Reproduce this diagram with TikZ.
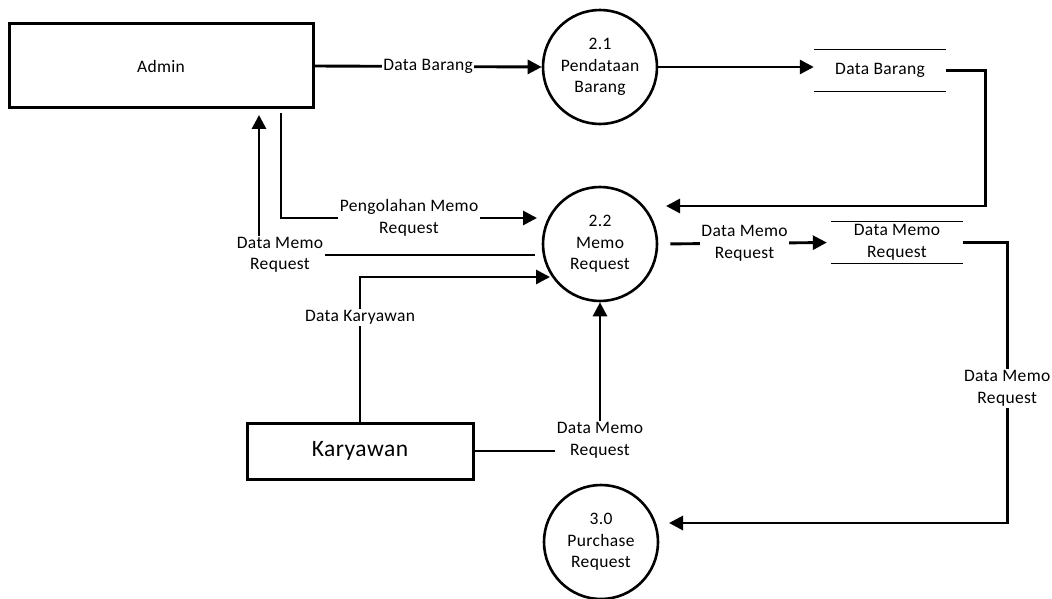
\documentclass[tikz,border=0pt]{standalone}
\usepackage{fontspec}
\setmainfont[LetterSpace=2]{Carlito}
\usetikzlibrary{arrows.meta}
\newcommand\lblfont{\fontsize{17.5}{21.5}\selectfont}
\tikzset{
 flow/.style={line width=2.9pt, -{Triangle[length=14pt,width=14pt]}},
 ext/.style={draw, line width=3pt, rectangle, inner sep=0pt},
 proc/.style={draw, circle, line width=2.6pt, minimum size=114pt, inner sep=0pt, align=center, font=\lblfont},
 lbl/.style={fill=white, inner sep=1.5pt, align=center, font=\lblfont},
 store/.style={inner sep=0pt, minimum width=132pt, minimum height=41pt, align=center, font=\lblfont},
 storeline/.style={line width=1.3pt},
}
\begin{document}
\begin{tikzpicture}[x=1pt,y=-1pt]
\useasboundingbox (0,0) rectangle (1052,599);
% nodes
\node[ext, minimum width=304pt, minimum height=84pt, font=\lblfont] (admin) at (161,66) {Admin};
\node[proc] (c21) at (600,67) {2.1\\Pendataan\\Barang};
\node[store] (s1) at (880,70.5) {Data Barang};
\draw[storeline] (s1.north west) -- (s1.north east) (s1.south west) -- (s1.south east);
\node[proc] (c22) at (600,244) {2.2\\Memo\\Request};
\node[store] (s2) at (897,242.5) {Data Memo\\Request};
\draw[storeline] (s2.north west) -- (s2.north east) (s2.south west) -- (s2.south east);
\node[proc] (c30) at (601,542) {3.0\\Purchase\\Request};
\node[ext, minimum width=226pt, minimum height=56pt, font=\fontsize{23.5}{28}\selectfont] (kary) at (360,451) {Karyawan};
% free ends
\coordinate (in22a) at (666,206);
\coordinate (in30) at (669,523);
\coordinate (o22) at (535,255);
\coordinate (admDM) at (259,115);
\coordinate (admPM) at (281,113);
\coordinate (in22b) at (537,218);
\coordinate (in22c) at (550,277);
% connectors
\draw[flow] (admin.east) -- node[lbl]{Data Barang} (c21.west);
\draw[flow] (c21.east) -- (c21.east -| s1.west);
\draw[flow] (s1.east) -- ++(39,0) |- (in22a);
\draw[flow, shorten <=12pt, shorten >=4pt] (c22.east) -- node[lbl]{Data Memo\\Request} (s2.west);
\draw[flow] (s2.east) -- ++(44,0) |- node[lbl, pos=0.26]{Data Memo\\Request} (in30);
\draw[flow] (o22) -| node[lbl, pos=0.5, xshift=21pt]{Data Memo\\Request} (admDM);
\draw[flow] (admPM) |- node[lbl, pos=0.75]{Pengolahan Memo\\Request} (in22b);
\draw[flow] (kary.north) |- node[lbl, pos=0.36]{Data Karyawan} (in22c);
\draw[flow] (kary.east) -| node[lbl, pos=0.5, yshift=10.5pt]{Data Memo\\Request} (c22.south);
\end{tikzpicture}
\end{document}
